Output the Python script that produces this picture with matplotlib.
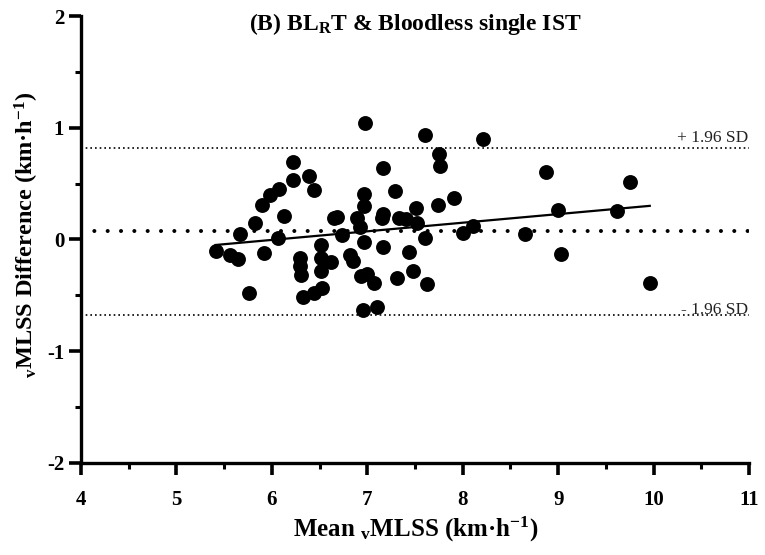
import numpy as np
import matplotlib
matplotlib.use('Agg')
import matplotlib.pyplot as plt
from matplotlib.ticker import MultipleLocator

plt.rcParams['font.family'] = ['Liberation Serif', 'DejaVu Serif']
plt.rcParams['font.weight'] = 'bold'
plt.rcParams['mathtext.fontset'] = 'custom'
plt.rcParams['mathtext.default'] = 'regular'
plt.rcParams['axes.unicode_minus'] = False

# Bland-Altman data: mean of the two methods and their difference (km/h)
mean_vmlss = [5.41, 5.56, 5.64, 5.67, 5.76, 5.82, 5.90, 5.92, 5.98, 6.07,
              6.06, 6.13, 6.22, 6.22, 6.29, 6.30, 6.31, 6.33, 6.39, 6.44,
              6.44, 6.52, 6.52, 6.52, 6.53, 6.62, 6.65, 6.68, 6.74, 6.82,
              6.85, 6.89, 6.92, 6.93, 6.95, 6.97, 6.97, 6.97, 6.98, 7.00,
              7.07, 7.10, 7.16, 7.16, 7.15, 7.16, 7.29, 7.31, 7.33, 7.41,
              7.44, 7.48, 7.51, 7.52, 7.61, 7.61, 7.63, 7.74, 7.75, 7.76,
              7.91, 8.00, 8.11, 8.21, 8.65, 8.87, 9.00, 9.03, 9.62, 9.75,
              9.96]
diff_vmlss = [-0.10, -0.14, -0.18, 0.05, -0.48, 0.15, 0.31, -0.12, 0.40, 0.45,
              0.01, 0.21, 0.69, 0.53, -0.17, -0.24, -0.32, -0.52, 0.57, 0.44,
              -0.48, -0.05, -0.17, -0.28, -0.44, -0.20, 0.19, 0.20, 0.04, -0.14,
              -0.19, 0.19, 0.11, -0.33, -0.63, 0.41, 0.30, -0.02, 1.04, -0.31,
              -0.39, -0.61, 0.64, 0.23, 0.19, -0.07, 0.43, -0.35, 0.19, 0.18,
              -0.11, -0.28, 0.28, 0.15, 0.93, 0.01, -0.40, 0.31, 0.76, 0.66,
              0.37, 0.06, 0.12, 0.90, 0.05, 0.60, 0.26, -0.13, 0.25, 0.51,
              -0.39]

bias = 0.073
sd_diff = 0.382
reg_slope = 0.077
reg_intercept = -0.467

mean_vmlss = np.array(mean_vmlss)
diff_vmlss = np.array(diff_vmlss)
upper = bias + 1.96 * sd_diff
lower = bias - 1.96 * sd_diff

fig = plt.figure(figsize=(7.65, 5.55), dpi=100)
ax = fig.add_axes([81 / 765, 1 - 462.7 / 555, (749 - 81) / 765, (462.7 - 16) / 555])

ax.scatter(mean_vmlss, diff_vmlss, s=115, c='black', linewidths=0, zorder=3, clip_on=False)

ax.axhline(bias, color='black', lw=2.9, ls=(0, (0.01, 3.3)), dash_capstyle='round')
ax.axhline(upper, color='black', lw=1.2, ls=(0, (1, 1.8)))
ax.axhline(lower, color='black', lw=1.2, ls=(0, (1, 1.8)))

xs = np.array([mean_vmlss.min(), mean_vmlss.max()])
ax.plot(xs, reg_intercept + reg_slope * xs, color='black', lw=1.6, zorder=4)

ax.text(10.99, upper + 0.05, '+ 1.96 SD', ha='right', va='baseline',
        fontsize=12.5, fontweight='normal', color='#222222')
ax.text(10.99, lower + 0.005, '- 1.96 SD', ha='right', va='baseline',
        fontsize=12.5, fontweight='normal', color='#222222')

ax.set_xlim(4, 11)
ax.set_ylim(-2, 2)
ax.xaxis.set_major_locator(MultipleLocator(1))
ax.xaxis.set_minor_locator(MultipleLocator(0.5))
ax.yaxis.set_major_locator(MultipleLocator(1))
ax.yaxis.set_minor_locator(MultipleLocator(0.5))

for s in ['top', 'right']:
    ax.spines[s].set_visible(False)
for s in ['left', 'bottom']:
    ax.spines[s].set_linewidth(2.4)
    ax.spines[s].set_capstyle('projecting')

ax.tick_params(which='major', length=8.6, width=2.6, direction='out', labelsize=15)
ax.tick_params(which='minor', length=4.5, width=2.2, direction='out')
ax.tick_params(axis='x', which='major', pad=11)
ax.tick_params(axis='y', which='major', pad=3.5)

fig.text(415 / 765, 1 - 30 / 555, '(B) BL$_R$T & Bloodless single IST',
         ha='center', va='baseline', fontsize=17, fontweight='bold')
fig.text(416 / 765, 1 - 537 / 555, 'Mean $_v$MLSS (km·h$^{-1}$)',
         ha='center', va='baseline', fontsize=18, fontweight='bold')
fig.text(27 / 765, 1 - 235 / 555, '$_v$MLSS Difference (km·h$^{-1}$)',
         ha='center', va='center', rotation=90, fontsize=17.5, fontweight='bold')

fig.savefig('out.png', dpi=100)
